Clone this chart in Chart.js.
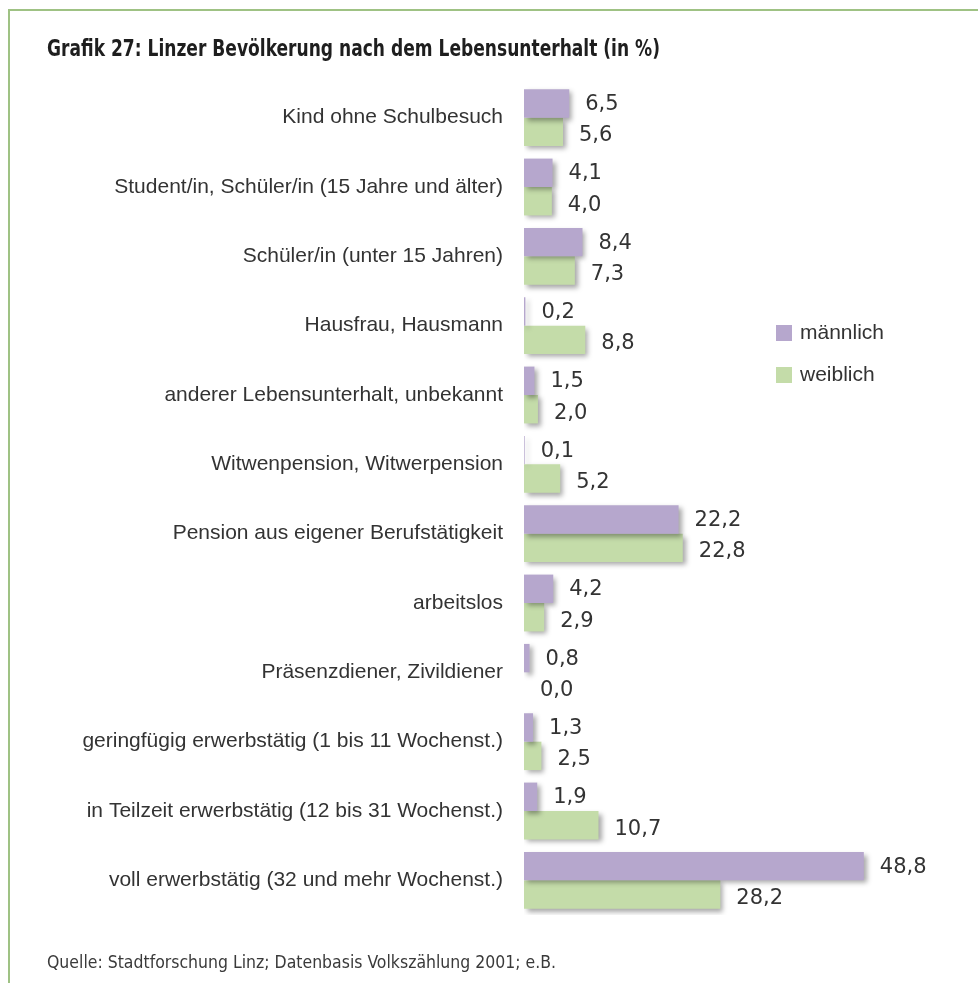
<!DOCTYPE html>
<html>
<head>
<meta charset="utf-8">
<script src="https://cdn.jsdelivr.net/npm/chart.js@4"></script>
<style>
  html, body { margin: 0; padding: 0; background: #fff; }
  #wrap { position: relative; width: 978px; height: 983px; overflow: hidden; }
  #frame { position: absolute; left: 8px; top: 9px; width: 980px; height: 990px;
           border-top: 2px solid #9fc284; border-left: 2px solid #9fc284; }
  canvas { position: absolute; left: 0; top: 0; }
</style>
</head>
<body>
<div id="wrap">
  <div id="frame"></div>
  <canvas id="c" width="978" height="983"></canvas>
</div>
<script>
const titleText = "Grafik 27: Linzer Bevölkerung nach dem Lebensunterhalt (in %)";
const sourceText = "Quelle: Stadtforschung Linz; Datenbasis Volkszählung 2001; e.B.";
const categories = [
  "Kind ohne Schulbesuch",
  "Student/in, Schüler/in (15 Jahre und älter)",
  "Schüler/in (unter 15 Jahren)",
  "Hausfrau, Hausmann",
  "anderer Lebensunterhalt, unbekannt",
  "Witwenpension, Witwerpension",
  "Pension aus eigener Berufstätigkeit",
  "arbeitslos",
  "Präsenzdiener, Zivildiener",
  "geringfügig erwerbstätig (1 bis 11 Wochenst.)",
  "in Teilzeit erwerbstätig (12 bis 31 Wochenst.)",
  "voll erwerbstätig (32 und mehr Wochenst.)"
];
const seriesNames = ["männlich", "weiblich"];
const maennlich = [6.5, 4.1, 8.4, 0.2, 1.5, 0.1, 22.2, 4.2, 0.8, 1.3, 1.9, 48.8];
const weiblich  = [5.6, 4.0, 7.3, 8.8, 2.0, 5.2, 22.8, 2.9, 0.0, 2.5, 10.7, 28.2];

const PURPLE = "#b6a7cd";
const GREEN = "#c4dca9";
const TEXT = "#333333";
const VALUE_FONT = "21px 'DejaVu Sans', Verdana, sans-serif";

function fitText(ctx, text, x, y, width) {
  const w = ctx.measureText(text).width;
  ctx.save();
  ctx.translate(x, y);
  ctx.scale(width / w, 1);
  ctx.fillText(text, 0, 0);
  ctx.restore();
}

const shadowPlugin = {
  id: 'barShadow',
  beforeDatasetDraw(chart) {
    const ctx = chart.ctx;
    ctx.save();
    ctx.shadowColor = 'rgba(0,0,0,0.35)';
    ctx.shadowBlur = 5;
    ctx.shadowOffsetX = 3;
    ctx.shadowOffsetY = 3;
  },
  afterDatasetDraw(chart) {
    chart.ctx.restore();
  }
};

const valueLabelPlugin = {
  id: 'valueLabels',
  afterDatasetsDraw(chart) {
    const ctx = chart.ctx;
    ctx.save();
    ctx.font = VALUE_FONT;
    ctx.fillStyle = TEXT;
    ctx.textAlign = 'left';
    ctx.textBaseline = 'middle';
    chart.data.datasets.forEach((ds, di) => {
      const meta = chart.getDatasetMeta(di);
      meta.data.forEach((bar, i) => {
        const v = ds.data[i];
        const txt = v.toFixed(1).replace('.', ',');
        ctx.fillText(txt, bar.x + 16, bar.y + (di === 0 ? 1 : 4));
      });
    });
    ctx.restore();
  }
};

const textPlugin = {
  id: 'pageText',
  afterDraw(chart) {
    const ctx = chart.ctx;
    ctx.save();
    ctx.textAlign = 'left';
    ctx.textBaseline = 'alphabetic';
    // title
    ctx.fillStyle = "#1e1e1e";
    ctx.font = "bold 23px 'DejaVu Sans Condensed', 'Liberation Sans', sans-serif";
    fitText(ctx, titleText, 47, 56, 613);
    // source
    ctx.fillStyle = "#3a3a3a";
    ctx.font = "18px 'DejaVu Sans Condensed', 'Liberation Sans', sans-serif";
    fitText(ctx, sourceText, 47, 968, 509);
    // legend
    ctx.font = "21px 'Liberation Sans', Arial, sans-serif";
    ctx.textBaseline = 'middle';
    chart.data.datasets.forEach((ds, di) => {
      const y = 333 + di * 42;
      ctx.fillStyle = ds.backgroundColor;
      ctx.fillRect(776, y - 8, 16, 16);
      ctx.fillStyle = TEXT;
      ctx.fillText(ds.label, 800, y);
    });
    ctx.restore();
  }
};

new Chart(document.getElementById('c'), {
  type: 'bar',
  data: {
    labels: categories,
    datasets: [
      { label: seriesNames[0], data: maennlich, backgroundColor: PURPLE, borderWidth: 0 },
      { label: seriesNames[1], data: weiblich, backgroundColor: GREEN, borderWidth: 0 }
    ]
  },
  options: {
    indexAxis: 'y',
    responsive: false,
    animation: false,
    devicePixelRatio: 1,
    layout: { padding: { top: 83, bottom: 68, left: 0, right: 71 } },
    datasets: { bar: { categoryPercentage: 0.82, barPercentage: 1.0 } },
    plugins: {
      legend: { display: false },
      title: { display: false },
      tooltip: { enabled: false }
    },
    scales: {
      x: { min: 0, max: 55, display: false, grid: { display: false } },
      y: {
        grid: { display: false, drawTicks: false },
        border: { display: false },
        ticks: { color: TEXT, font: { family: "'Liberation Sans', Arial, sans-serif", size: 21 }, padding: 21, autoSkip: false },
        afterFit(scale) { scale.width = 524; }
      }
    }
  },
  plugins: [shadowPlugin, valueLabelPlugin, textPlugin]
});
</script>
</body>
</html>
